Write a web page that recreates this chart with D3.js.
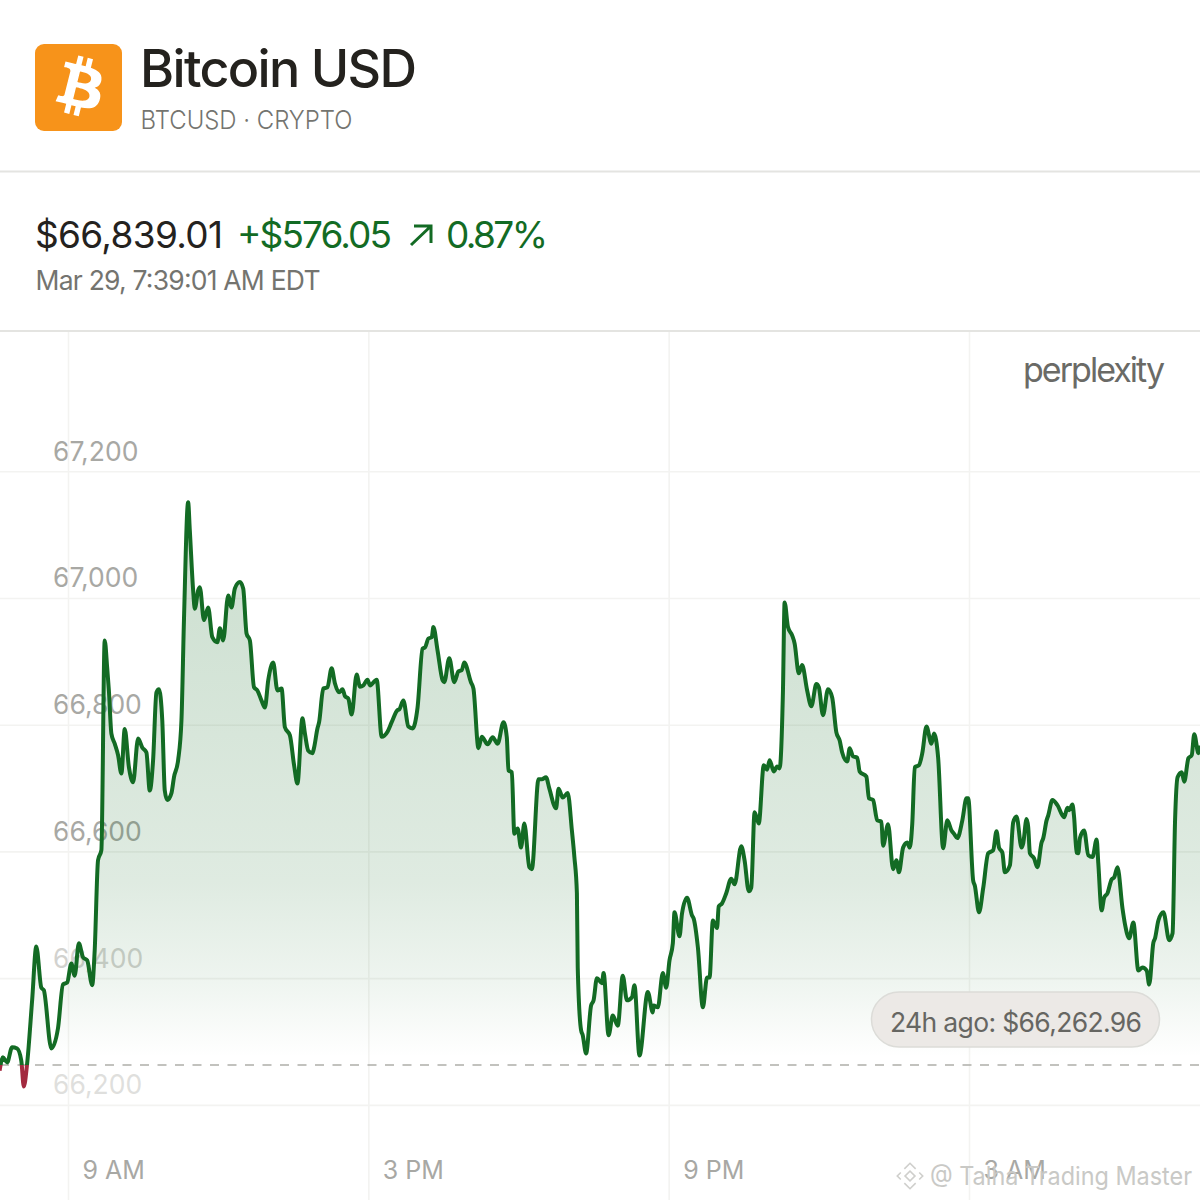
<!DOCTYPE html>
<html>
<head>
<meta charset="utf-8">
<script src="https://cdn.jsdelivr.net/npm/d3@7"></script>
<style>
  html, body { margin: 0; padding: 0; background: #fff; }
  svg { display: block; }
  text { font-family: Inter, "Noto Sans", sans-serif; }
</style>
</head>
<body>
<div id="chart"></div>
<script>
// minutes after 9 AM on Mar 28
var minutes = [-82,-78,-73,-67,-61,-56,-53,-49,-43,-38,-32,-29,-20,-12,-6,-1,4,8,13,18,23,29,32,36,40,44,47,49,52,56,60,64,68,73,78,84,89,94,98,102,106,109,113,116,119,124,127,132,136,139,144,146,150,152,156,158,163,168,173,179,182,186,192,196,200,206,210,214,218,223,227,232,236,240,246,251,256,260,266,271,275,
281,284,288,293,295,299,301,306,311,316,320,325,329,332,336,340,346,350,354,359,362,370,376,383,388,395,397,402,408,413,419,425,428,432,436,438,443,449,451,457,463,468,472,475,483,486,492,496,503,509,515,522,526,528,532,535,539,543,547,553,556,564,568,573,577,585,588,593,599,604,607,610,611,615,617,621,627,630,634,640,642,648,653,659,665,670,676,679,685,695,701,702,707,713,717,721,725,727,733,736,742,748,750,755,761,766,769,773,778,780,784,789,795,799,807,811,816,819,823,828,834,838,841,846,850,853,857,859,863,868,871,876,880,886,891,897,900,905,911,916,921,925,928,934,937,941,946,949,957,960,965,970,975,977,983,989,993,996,1001,1006,1009,1012,1015,1020,1024,1029,1035,1038,1043,1049,1054,1059,1062,1066,1072,1077,1079,1085,1087,1092,1097,1103,1109,1113,1116,1120,1123,1129,1133,1137,1143,1145,1149,1151,1153,1158,1162,1167,1169,1173,1175,1180,1186,1194,1198,1200,1204,1206,1209,1211,1213,1218,1223,1228,1233,1235,1239,1242,1246,1251,1254,1258,1264,1267,1272,1277,1283,1288,1293,1296,1301,1303,1307,1313,1320,1324,1327,1330,1335,1338,1343,1347,1350,1355,1357];

// BTC price in USD at each of those minutes
var prices = [66254,66275,66267,66291,66289,66270,66229,66265,66365,66450,66385,66381,66289,66321,66390,66393,66423,66404,66455,66433,66428,66389,66444,66586,66602,66933,66889,66854,66786,66770,66752,66723,66793,66733,66709,66778,66764,66756,66696,66744,66851,66856,66807,66696,66681,66692,66717,66744,66807,66965,67151,67107,67012,66983,67012,67017,66965,66985,66938,66930,66952,66933,67004,66985,67015,67025,67015,66944,66933,66859,66854,66838,66827,66870,66898,66854,66857,66796,66783,66736,66707,
66810,66786,66759,66755,66764,66794,66804,66857,66859,66889,66865,66851,66856,66845,66841,66816,66879,66860,66862,66871,66862,66871,66781,66789,66804,66823,66824,66838,66797,66794,66827,66920,66922,66936,66938,66954,66917,66870,66867,66905,66867,66884,66886,66898,66867,66857,66763,66781,66769,66780,66770,66804,66780,66728,66725,66628,66636,66606,66644,66575,66572,66714,66714,66717,66699,66668,66699,66685,66692,66633,66591,66534,66417,66318,66310,66281,66357,66365,66400,66392,66408,66310,66341,66325,66404,66365,66370,66389,66278,66378,66346,66357,66354,66408,66385,66428,66455,66504,66466,66502,66527,66499,66494,66449,66354,66401,66401,66491,66479,66513,66518,66534,66557,66548,66608,66586,66537,66543,66662,66644,66736,66729,66744,66726,66734,66731,66854,66993,66954,66941,66928,66881,66894,66854,66829,66864,66859,66815,66856,66843,66788,66775,66756,66742,66763,66750,66748,66726,66718,66684,66681,66649,66647,66609,66643,66572,66586,66567,66606,66614,66606,66644,66733,66736,66755,66797,66770,66786,66748,66605,66649,66633,66628,66621,66649,66684,66684,66554,66546,66504,66542,66597,66602,66632,66606,66598,66567,66578,66646,66655,66606,66613,66651,66638,66597,66589,66575,66614,66621,66649,66657,66681,66673,66654,66669,66665,66674,66654,66598,66597,66621,66633,66594,66591,66619,66581,66507,66527,66534,66556,66559,66575,66510,66485,66463,66488,66412,66417,66412,66390,66456,66463,66491,66504,66460,66471,66649,66717,66725,66710,66747,66752,66785,66755,66767];

var priceTicks = [66200, 66400, 66600, 66800, 67000, 67200];
var timeTicks = [0, 360, 720, 1080];
var timeLabels = ["9 AM", "3 PM", "9 PM", "3 AM"];
var agoPrice = 66262.96;

var width = 1200, height = 1200;
var chartTop = 332;

var svg = d3.select("#chart").append("svg")
    .attr("width", width)
    .attr("height", height);

var xScale = d3.scaleLinear().domain([0, 1080]).range([68, 969]);
var yScale = d3.scaleLinear().domain([66200, 67200]).range([1104.9, 471.2]);

var points = minutes.map(function(m, i) { return {m: m, p: prices[i]}; });

var defs = svg.append("defs");

// area fill fades out towards the 24h line
var grad = defs.append("linearGradient")
    .attr("id", "area-fill")
    .attr("gradientUnits", "userSpaceOnUse")
    .attr("x1", 0).attr("x2", 0)
    .attr("y1", 600).attr("y2", yScale(agoPrice) - 8);
[[0, 0.2], [0.62, 0.135], [0.82, 0.075], [1, 0]].forEach(function(s) {
    grad.append("stop")
        .attr("offset", s[0])
        .attr("stop-color", "#136b24")
        .attr("stop-opacity", s[1]);
});

defs.append("clipPath").attr("id", "above-ago").append("rect")
    .attr("x", 0).attr("y", 0)
    .attr("width", width).attr("height", yScale(agoPrice));
defs.append("clipPath").attr("id", "below-ago").append("rect")
    .attr("x", 0).attr("y", yScale(agoPrice))
    .attr("width", width).attr("height", height - yScale(agoPrice));

// header
svg.append("rect")
    .attr("x", 35).attr("y", 44)
    .attr("width", 87).attr("height", 87)
    .attr("rx", 9)
    .attr("fill", "#f7931a");
svg.append("path")
    .attr("transform", "translate(79.5,87.5) scale(1.5) translate(-31.5,-32.5)")
    .attr("fill", "#fff")
    .attr("d", "M46.11 27.441c.636-4.258-2.606-6.547-7.039-8.074l1.438-5.768-3.512-.875-1.4 5.616c-.922-.23-1.87-.447-2.812-.662l1.41-5.653-3.509-.875-1.439 5.766c-.764-.174-1.514-.346-2.242-.527l.004-.018-4.842-1.209-.934 3.75s2.605.597 2.55.634c1.422.355 1.68 1.296 1.636 2.042l-1.638 6.571c.098.025.225.061.365.117l-.37-.092-2.297 9.205c-.174.432-.615 1.08-1.609.834.035.051-2.552-.637-2.552-.637l-1.743 4.02 4.57 1.139c.85.213 1.683.436 2.502.646l-1.453 5.835 3.507.875 1.44-5.772c.957.26 1.887.5 2.797.726L27.504 50.8l3.511.875 1.453-5.823c5.987 1.133 10.49.676 12.383-4.738 1.527-4.36-.075-6.875-3.225-8.516 2.294-.531 4.022-2.04 4.483-5.157zM38.087 38.69c-1.086 4.36-8.426 2.004-10.807 1.412l1.928-7.729c2.38.594 10.011 1.77 8.88 6.317zm1.085-11.312c-.99 3.966-7.1 1.951-9.083 1.457l1.748-7.01c1.983.494 8.367 1.416 7.335 5.553z");

function label(x, y, str, size, color, len, adjust) {
    var t = svg.append("text")
        .attr("x", x).attr("y", y)
        .attr("font-size", size)
        .attr("fill", color)
        .text(str);
    if (len) t.attr("textLength", len).attr("lengthAdjust", adjust || "spacing");
    return t;
}

label(140, 87, "Bitcoin USD", 52, "#24221e", 277).attr("font-weight", 500);
label(140.5, 129, "BTCUSD · CRYPTO", 26, "#74746f", 212, "spacingAndGlyphs")
    .attr("font-family", "Roboto, sans-serif").attr("font-weight", 300);
label(35, 248, "$66,839.01", 37, "#24221e", 188);
label(237, 248, "+$576.05", 37, "#136b24", 155);
label(446, 248, "0.87%", 37, "#136b24", 102);
label(35.5, 289.5, "Mar 29, 7:39:01 AM EDT", 26.5, "#74746f", 285);

svg.append("path")
    .attr("d", "M411 245L431 226M414 226H431V243")
    .attr("fill", "none")
    .attr("stroke", "#136b24")
    .attr("stroke-width", 3);

svg.append("line").attr("x1", 0).attr("x2", width).attr("y1", 171.5).attr("y2", 171.5)
    .attr("stroke", "#e4e4e1").attr("stroke-width", 2);
svg.append("line").attr("x1", 0).attr("x2", width).attr("y1", 331).attr("y2", 331)
    .attr("stroke", "#e4e4e1").attr("stroke-width", 2);

// axes, grid lines come from the tick lines
var yAxis = d3.axisLeft(yScale)
    .tickValues(priceTicks)
    .tickSize(-width)
    .tickFormat(d3.format(","));
var xAxis = d3.axisBottom(xScale)
    .tickValues(timeTicks)
    .tickSize(-(height - chartTop))
    .tickFormat(function(d, i) { return timeLabels[i]; });

var yFade = d3.scaleLinear()
    .domain([66200, 66400, 66600])
    .range(["#dfdfdd", "#d2d2cf", "#a8a8a4"])
    .clamp(true);

var yG = svg.append("g").call(yAxis);
yG.select(".domain").remove();
yG.selectAll(".tick line").attr("stroke", "#f3f3f1").attr("stroke-width", 1.6);
yG.selectAll(".tick text")
    .attr("x", 53)
    .attr("dy", -11)
    .attr("text-anchor", "start")
    .attr("font-size", 26.5)
    .attr("font-family", "Inter, sans-serif")
    .attr("fill", function(d) { return yFade(d); });

var xG = svg.append("g").attr("transform", "translate(0," + height + ")").call(xAxis);
xG.select(".domain").remove();
xG.selectAll(".tick line").attr("stroke", "#f3f3f1").attr("stroke-width", 1.6);
xG.selectAll(".tick text")
    .attr("x", 14)
    .attr("y", -21)
    .attr("dy", 0)
    .attr("text-anchor", "start")
    .attr("font-size", 25)
    .attr("font-family", "Inter, sans-serif")
    .attr("fill", "#a8a8a4");

// area and line
var area = d3.area()
    .x(function(d) { return xScale(d.m); })
    .y0(yScale(agoPrice))
    .y1(function(d) { return yScale(d.p); })
    .curve(d3.curveMonotoneX);
var line = d3.line()
    .x(function(d) { return xScale(d.m); })
    .y(function(d) { return yScale(d.p); })
    .curve(d3.curveMonotoneX);

svg.append("path")
    .datum(points)
    .attr("d", area)
    .attr("clip-path", "url(#above-ago)")
    .attr("fill", "url(#area-fill)");

svg.append("line")
    .attr("x1", 0).attr("x2", width)
    .attr("y1", yScale(agoPrice)).attr("y2", yScale(agoPrice))
    .attr("stroke", "#aeaea9")
    .attr("stroke-width", 1.6)
    .attr("stroke-dasharray", "9,8.5");

svg.append("path")
    .datum(points)
    .attr("d", line)
    .attr("clip-path", "url(#above-ago)")
    .attr("fill", "none")
    .attr("stroke", "#136b24")
    .attr("stroke-width", 4)
    .attr("stroke-linejoin", "round");
svg.append("path")
    .datum(points)
    .attr("d", line)
    .attr("clip-path", "url(#below-ago)")
    .attr("fill", "none")
    .attr("stroke", "#a32a3f")
    .attr("stroke-width", 4)
    .attr("stroke-linejoin", "round");

// 24h ago pill
svg.append("rect")
    .attr("x", 871.5).attr("y", 992)
    .attr("width", 288).attr("height", 55)
    .attr("rx", 27.5)
    .attr("fill", "#ece9e6")
    .attr("stroke", "#dcdcd8")
    .attr("stroke-width", 1.5);
label(890, 1031.5, "24h ago: $66,262.96", 26.5, "#666662", 252);

label(1023, 382, "perplexity", 34, "#6a6a66", 142);

// watermark
var mark = svg.append("g")
    .attr("transform", "translate(910,1176) rotate(45)")
    .attr("fill", "none")
    .attr("stroke", "#cfcfcc")
    .attr("stroke-width", 1.6);
mark.append("rect").attr("x", -3.5).attr("y", -3.5).attr("width", 7).attr("height", 7);
mark.append("path").attr("d", "M-9 -1V-9H-1M1 9H9V1");
mark.append("path").attr("d", "M-9 4V9H-4M4 -9H9V-4");

label(930, 1185, "@ Talha Trading Master", 25, "#c9c9c6", 262, "spacingAndGlyphs")
    .attr("font-family", "Noto Sans, sans-serif");
</script>
</body>
</html>
